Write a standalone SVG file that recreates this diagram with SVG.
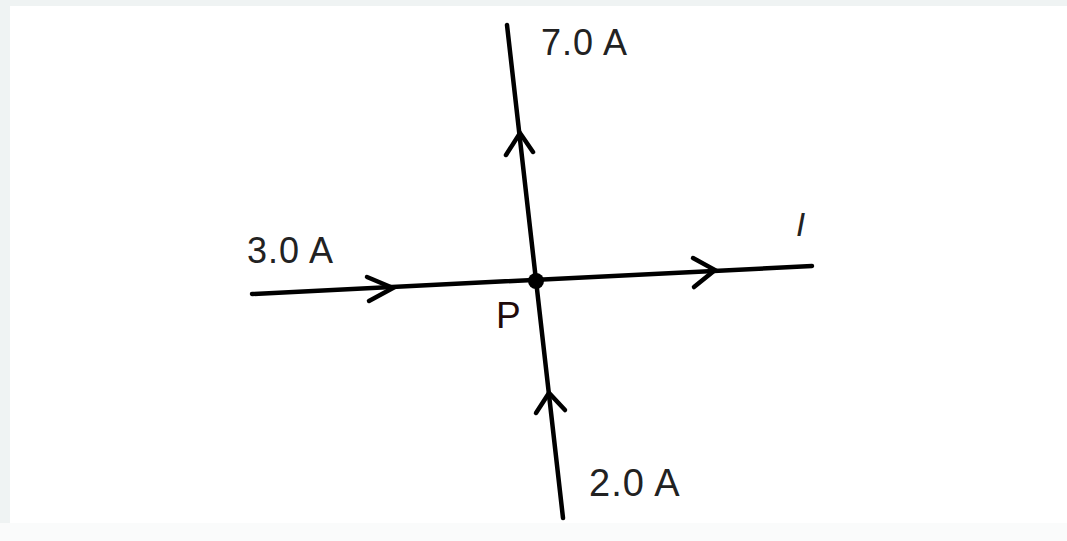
<svg xmlns="http://www.w3.org/2000/svg" width="1067" height="541" viewBox="0 0 1067 541">
<style>
.wire{stroke:#000;stroke-width:4.5;fill:none;stroke-linecap:round}
.chev{stroke:#000;stroke-width:4.5;fill:none;stroke-linecap:round;stroke-linejoin:miter}
.lbl{font-family:"Liberation Sans",Arial,sans-serif;font-size:36px;fill:#222;letter-spacing:1px}
</style>
<rect x="0" y="0" width="1067" height="541" fill="#eff3f3"/>
<rect x="10" y="6" width="1057" height="517" fill="#ffffff"/>
<rect x="0" y="523" width="1067" height="18" fill="#fafbfb"/>
<g id="connectors">
<line class="wire" x1="252" y1="294" x2="812" y2="266"/>
<line class="wire" x1="507" y1="25" x2="563" y2="518"/>
<polyline class="chev" points="367,277 393,288 369,301"/>
<polyline class="chev" points="693,258 715,270 694,287"/>
<polyline class="chev" points="506,155 520,133 533,152"/>
<polyline class="chev" points="536,413 549,393 565,410"/>
</g>
<g id="node-P">
<circle cx="536" cy="281" r="8" fill="#000"/>
<text class="lbl" x="496" y="328" style="fill:#1f0a0a;font-size:37px">P</text>
</g>
<g id="label-7A"><text class="lbl" x="541" y="55">7.0 A</text></g>
<g id="label-3A"><text class="lbl" x="247" y="263">3.0 A</text></g>
<g id="label-2A"><text class="lbl" x="589" y="496" style="font-size:38px">2.0 A</text></g>
<g id="label-I"><text class="lbl" x="796" y="236" style="font-style:italic;font-size:33px">I</text></g>
</svg>
